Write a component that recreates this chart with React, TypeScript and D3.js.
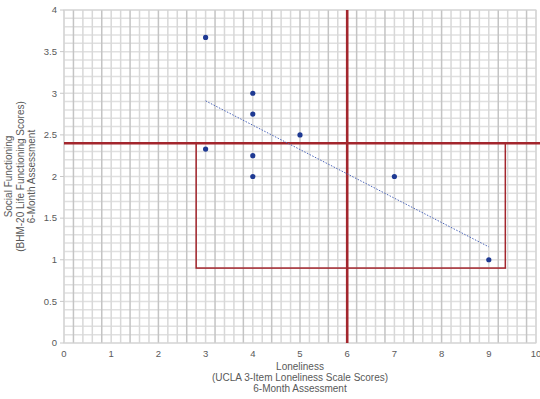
import React from 'react';
import * as d3 from 'd3';

// loneliness (x) vs social functioning (y), 6-month assessment
const lonelinessScores = [3, 4, 4, 5, 3, 4, 4, 7, 9];
const functioningScores = [3.67, 3.0, 2.75, 2.5, 2.33, 2.25, 2.0, 2.0, 1.0];

const xTicks = [0, 1, 2, 3, 4, 5, 6, 7, 8, 9, 10];
const yTicks = [0, 0.5, 1, 1.5, 2, 2.5, 3, 3.5, 4];

// reference lines and box drawn over the chart
const cutX = 6;
const cutY = 2.4;
const boxX = [2.8, 9.35];
const boxY = [0.9, 2.4];

const xTitle = ['Loneliness', '(UCLA 3-Item Loneliness Scale Scores)', '6-Month Assessment'];
const yTitle = ['Social Functioning', '(BHM-20 Life Functioning Scores)', '6-Month Assessment'];

const W = 540;
const H = 399;
const margin = { top: 10, right: 4, bottom: 56, left: 64 };
const red = '#a3262d';
const textColor = '#595959';

const App: React.FC = () => {
  const x = d3.scaleLinear().domain([0, 10]).range([margin.left, W - margin.right]);
  const y = d3.scaleLinear().domain([0, 4]).range([H - margin.bottom, margin.top]);

  // least squares trendline
  const pts = lonelinessScores.map((v, i) => [v, functioningScores[i]] as [number, number]);
  const mx = d3.mean(pts, (d) => d[0])!;
  const my = d3.mean(pts, (d) => d[1])!;
  const sxy = d3.sum(pts, (d) => (d[0] - mx) * (d[1] - my));
  const sxx = d3.sum(pts, (d) => (d[0] - mx) ** 2);
  const slope = sxy / sxx;
  const fit = (v: number) => my + slope * (v - mx);
  const [x0, x1] = d3.extent(lonelinessScores) as [number, number];

  const vGrid = d3.range(0, 10.001, 0.2);
  const hGrid = d3.range(0, 4.001, 0.1);

  const font = '"Liberation Sans", Arial, sans-serif';

  return (
    <svg
      width={W}
      height={H}
      style={{ position: 'absolute', left: 0, top: 0, background: '#fff' }}
      fontFamily={font}
    >
      <g>
        {hGrid.map((v, i) => (
          <line
            key={'h' + i}
            x1={x(0)}
            x2={x(10)}
            y1={y(v)}
            y2={y(v)}
            stroke="#e0e0e0"
            strokeWidth={1.5}
          />
        ))}
        {vGrid.map((v, i) => (
          <line
            key={'v' + i}
            x1={x(v)}
            x2={x(v)}
            y1={y(0)}
            y2={y(4)}
            stroke={i % 3 === 1 ? '#c4c4c4' : '#d8d8d8'}
            strokeWidth={1.5}
          />
        ))}
        <rect
          x={x(0)}
          y={y(4)}
          width={x(10) - x(0)}
          height={y(0) - y(4)}
          fill="none"
          stroke="#d4d4d4"
          strokeWidth={1}
        />
      </g>

      <g fontSize={9.5} fill={textColor}>
        {yTicks.map((t) => (
          <g key={'yt' + t}>
            <line x1={x(0) - 4} x2={x(0)} y1={y(t)} y2={y(t)} stroke="#c8c8c8" />
            <text x={x(0) - 7} y={y(t)} dy="0.35em" textAnchor="end">
              {t}
            </text>
          </g>
        ))}
        {xTicks.map((t) => (
          <text key={'xt' + t} x={x(t)} y={y(0) + 14} textAnchor="middle">
            {t}
          </text>
        ))}
      </g>

      <g fontSize={10} fill={textColor} textAnchor="middle">
        {xTitle.map((s, i) => (
          <text key={'xl' + i} x={300} y={370 + i * 11.2}>
            {s}
          </text>
        ))}
        <g transform={`translate(0,${(y(0) + y(4)) / 2}) rotate(-90)`}>
          {yTitle.map((s, i) => (
            <text key={'yl' + i} x={0} y={12 + i * 11.5}>
              {s}
            </text>
          ))}
        </g>
      </g>

      <rect
        x={x(boxX[0])}
        y={y(boxY[1])}
        width={x(boxX[1]) - x(boxX[0])}
        height={y(boxY[0]) - y(boxY[1])}
        fill="none"
        stroke={red}
        strokeWidth={1.5}
      />
      <line x1={x(cutX)} x2={x(cutX)} y1={y(4)} y2={y(0)} stroke={red} strokeWidth={2.6} />
      <line x1={x(0)} x2={W} y1={y(cutY)} y2={y(cutY)} stroke={red} strokeWidth={2.6} />

      <line
        x1={x(x0)}
        x2={x(x1)}
        y1={y(fit(x0))}
        y2={y(fit(x1))}
        stroke="#4a64b8"
        strokeWidth={1}
        strokeDasharray="1.5 1.5"
      />
      {pts.map((d, i) => (
        <circle key={'p' + i} cx={x(d[0])} cy={y(d[1])} r={2.6} fill="#1f3a93" />
      ))}
    </svg>
  );
};

export default App;
